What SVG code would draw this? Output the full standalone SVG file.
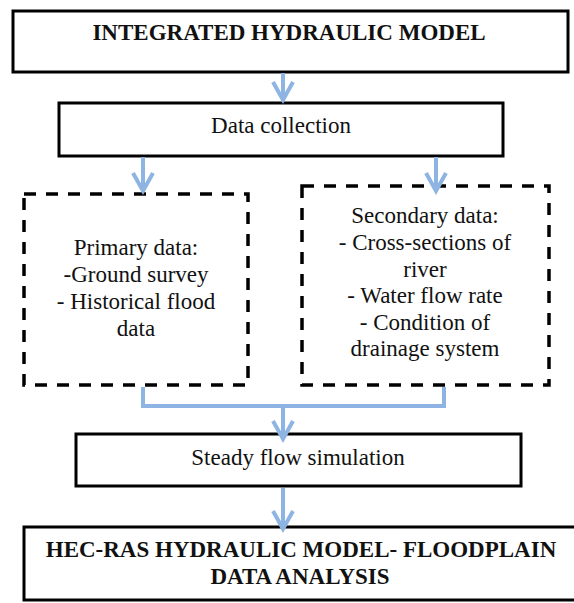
<svg xmlns="http://www.w3.org/2000/svg" width="574" height="603" viewBox="0 0 574 603">
<style>
.solid{fill:#fff;stroke:#000;stroke-width:3}
.dash{fill:#fff;stroke:#000;stroke-width:3.5;stroke-dasharray:12 10}
.t{font-family:'Liberation Serif','Times New Roman','DejaVu Serif',serif;font-size:23px;fill:#111;text-anchor:middle}
.b{font-weight:bold}
.c{fill:none;stroke:#8EB4E3;stroke-width:4}
</style>
<defs>
<marker id="ah" markerUnits="userSpaceOnUse" markerWidth="30" markerHeight="30" viewBox="-24 -15 30 30" refX="0" refY="0" orient="auto">
<path d="M-18,-10 L0,0 L-18,10" fill="none" stroke="#8EB4E3" stroke-width="4"/>
</marker>
</defs>
<rect width="574" height="603" fill="#fff"/>
<g id="n1">
<rect class="solid" x="13" y="11" width="555" height="61"/>
<text class="t b" x="289" y="40">INTEGRATED HYDRAULIC MODEL</text>
</g>
<g id="n2">
<rect class="solid" x="59" y="103" width="444" height="53"/>
<text class="t" x="281" y="133">Data collection</text>
</g>
<g id="n3">
<rect class="dash" x="24" y="194" width="224" height="191"/>
<text class="t" x="136" y="255">Primary data:</text>
<text class="t" x="136" y="282">-Ground survey</text>
<text class="t" x="136" y="309">- Historical flood</text>
<text class="t" x="136" y="336">data</text>
</g>
<g id="n4">
<rect class="dash" x="302" y="186" width="247" height="199"/>
<text class="t" x="425" y="223">Secondary data:</text>
<text class="t" x="425" y="250">- Cross-sections of</text>
<text class="t" x="425" y="277">river</text>
<text class="t" x="425" y="303">- Water flow rate</text>
<text class="t" x="425" y="330">- Condition of</text>
<text class="t" x="425" y="356">drainage system</text>
</g>
<g id="n5">
<rect class="solid" x="76" y="434" width="445" height="52"/>
<text class="t" x="298" y="465">Steady flow simulation</text>
</g>
<g id="n6">
<rect class="solid" x="24" y="527" width="556" height="73"/>
<text class="t b" x="301" y="557">HEC-RAS HYDRAULIC MODEL- FLOODPLAIN</text>
<text class="t b" x="300" y="584">DATA ANALYSIS</text>
</g>
<g id="connectors">
<path class="c" d="M283,73 V100" marker-end="url(#ah)"/>
<path class="c" d="M143,157 V191" marker-end="url(#ah)"/>
<path class="c" d="M436,157 V191" marker-end="url(#ah)"/>
<path class="c" d="M143,387 V406 H444 V387"/>
<path class="c" d="M283,406 V439" marker-end="url(#ah)"/>
<path class="c" d="M283,488 V529" marker-end="url(#ah)"/>
</g>
</svg>
